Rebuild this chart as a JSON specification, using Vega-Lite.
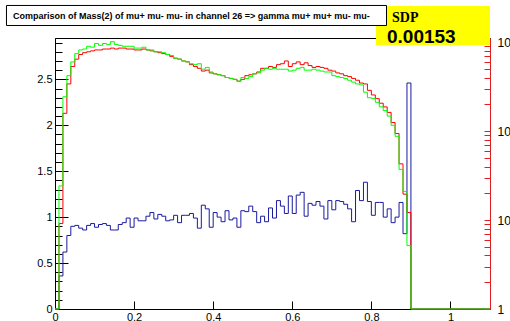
{
  "$schema": "https://vega.github.io/schema/vega-lite/v6.json",
  "width": 435,
  "height": 271,
  "autosize": {"type": "none"},
  "padding": {"left": 55, "top": 38, "right": 20, "bottom": 12},
  "background": "white",
  "config": {
    "view": {"stroke": "#000", "strokeWidth": 1},
    "axis": {"labelFont": "Liberation Sans", "labelFontSize": 11, "labelColor": "#000", "domainColor": "#000", "tickColor": "#000", "grid": false, "title": null, "labelOverlap": false, "labelFlush": false}
  },
  "data": {"values": [
    {"x": 0.00, "r": 0, "g": 0, "b": 0},
    {"x": 0.01, "r": 0.93, "g": 1.34, "b": 0.36},
    {"x": 0.02, "r": 2.13, "g": 2.31, "b": 0.62},
    {"x": 0.03, "r": 2.45, "g": 2.54, "b": 0.80},
    {"x": 0.04, "r": 2.64, "g": 2.69, "b": 0.90},
    {"x": 0.05, "r": 2.72, "g": 2.78, "b": 0.91},
    {"x": 0.06, "r": 2.77, "g": 2.82, "b": 0.88},
    {"x": 0.07, "r": 2.79, "g": 2.83, "b": 0.86},
    {"x": 0.08, "r": 2.80, "g": 2.86, "b": 0.91},
    {"x": 0.09, "r": 2.81, "g": 2.85, "b": 0.93},
    {"x": 0.10, "r": 2.82, "g": 2.89, "b": 0.89},
    {"x": 0.11, "r": 2.82, "g": 2.87, "b": 0.92},
    {"x": 0.12, "r": 2.83, "g": 2.89, "b": 0.93},
    {"x": 0.13, "r": 2.83, "g": 2.88, "b": 0.91},
    {"x": 0.14, "r": 2.84, "g": 2.91, "b": 0.86},
    {"x": 0.15, "r": 2.83, "g": 2.88, "b": 0.86},
    {"x": 0.16, "r": 2.84, "g": 2.87, "b": 0.92},
    {"x": 0.17, "r": 2.84, "g": 2.86, "b": 0.94},
    {"x": 0.18, "r": 2.83, "g": 2.86, "b": 0.99},
    {"x": 0.19, "r": 2.83, "g": 2.86, "b": 0.89},
    {"x": 0.20, "r": 2.82, "g": 2.84, "b": 0.99},
    {"x": 0.21, "r": 2.82, "g": 2.84, "b": 0.96},
    {"x": 0.22, "r": 2.83, "g": 2.85, "b": 0.96},
    {"x": 0.23, "r": 2.82, "g": 2.82, "b": 1.01},
    {"x": 0.24, "r": 2.81, "g": 2.82, "b": 1.05},
    {"x": 0.25, "r": 2.80, "g": 2.80, "b": 0.98},
    {"x": 0.26, "r": 2.79, "g": 2.80, "b": 1.03},
    {"x": 0.27, "r": 2.78, "g": 2.79, "b": 1.01},
    {"x": 0.28, "r": 2.77, "g": 2.77, "b": 0.96},
    {"x": 0.29, "r": 2.75, "g": 2.76, "b": 0.97},
    {"x": 0.30, "r": 2.73, "g": 2.73, "b": 1.02},
    {"x": 0.31, "r": 2.72, "g": 2.72, "b": 0.94},
    {"x": 0.32, "r": 2.70, "g": 2.70, "b": 1.02},
    {"x": 0.33, "r": 2.69, "g": 2.69, "b": 1.02},
    {"x": 0.34, "r": 2.66, "g": 2.67, "b": 1.04},
    {"x": 0.35, "r": 2.64, "g": 2.66, "b": 0.99},
    {"x": 0.36, "r": 2.62, "g": 2.67, "b": 0.88},
    {"x": 0.37, "r": 2.59, "g": 2.61, "b": 1.13},
    {"x": 0.38, "r": 2.60, "g": 2.63, "b": 1.09},
    {"x": 0.39, "r": 2.57, "g": 2.58, "b": 0.89},
    {"x": 0.40, "r": 2.56, "g": 2.56, "b": 1.05},
    {"x": 0.41, "r": 2.55, "g": 2.55, "b": 1.00},
    {"x": 0.42, "r": 2.54, "g": 2.54, "b": 0.95},
    {"x": 0.43, "r": 2.52, "g": 2.52, "b": 1.07},
    {"x": 0.44, "r": 2.51, "g": 2.51, "b": 0.97},
    {"x": 0.45, "r": 2.50, "g": 2.50, "b": 0.99},
    {"x": 0.46, "r": 2.48, "g": 2.48, "b": 0.89},
    {"x": 0.47, "r": 2.50, "g": 2.52, "b": 1.07},
    {"x": 0.48, "r": 2.54, "g": 2.51, "b": 1.06},
    {"x": 0.49, "r": 2.55, "g": 2.53, "b": 1.12},
    {"x": 0.50, "r": 2.56, "g": 2.56, "b": 1.06},
    {"x": 0.51, "r": 2.58, "g": 2.57, "b": 0.94},
    {"x": 0.52, "r": 2.62, "g": 2.60, "b": 1.01},
    {"x": 0.53, "r": 2.62, "g": 2.62, "b": 0.95},
    {"x": 0.54, "r": 2.64, "g": 2.61, "b": 1.10},
    {"x": 0.55, "r": 2.63, "g": 2.62, "b": 0.99},
    {"x": 0.56, "r": 2.66, "g": 2.61, "b": 1.18},
    {"x": 0.57, "r": 2.67, "g": 2.61, "b": 1.12},
    {"x": 0.58, "r": 2.70, "g": 2.61, "b": 1.04},
    {"x": 0.59, "r": 2.64, "g": 2.59, "b": 1.23},
    {"x": 0.60, "r": 2.67, "g": 2.60, "b": 1.04},
    {"x": 0.61, "r": 2.69, "g": 2.62, "b": 1.24},
    {"x": 0.62, "r": 2.66, "g": 2.63, "b": 1.27},
    {"x": 0.63, "r": 2.68, "g": 2.60, "b": 1.01},
    {"x": 0.64, "r": 2.65, "g": 2.60, "b": 1.15},
    {"x": 0.65, "r": 2.63, "g": 2.61, "b": 1.13},
    {"x": 0.66, "r": 2.64, "g": 2.60, "b": 1.17},
    {"x": 0.67, "r": 2.63, "g": 2.59, "b": 1.12},
    {"x": 0.68, "r": 2.62, "g": 2.58, "b": 0.98},
    {"x": 0.69, "r": 2.60, "g": 2.58, "b": 1.18},
    {"x": 0.70, "r": 2.59, "g": 2.54, "b": 1.08},
    {"x": 0.71, "r": 2.57, "g": 2.53, "b": 1.18},
    {"x": 0.72, "r": 2.56, "g": 2.52, "b": 1.17},
    {"x": 0.73, "r": 2.54, "g": 2.51, "b": 1.14},
    {"x": 0.74, "r": 2.53, "g": 2.49, "b": 1.09},
    {"x": 0.75, "r": 2.51, "g": 2.47, "b": 0.95},
    {"x": 0.76, "r": 2.49, "g": 2.45, "b": 1.29},
    {"x": 0.77, "r": 2.46, "g": 2.44, "b": 1.18},
    {"x": 0.78, "r": 2.45, "g": 2.36, "b": 1.38},
    {"x": 0.79, "r": 2.38, "g": 2.30, "b": 1.17},
    {"x": 0.80, "r": 2.33, "g": 2.29, "b": 1.02},
    {"x": 0.81, "r": 2.29, "g": 2.25, "b": 1.16},
    {"x": 0.82, "r": 2.24, "g": 2.20, "b": 1.16},
    {"x": 0.83, "r": 2.20, "g": 2.16, "b": 1.00},
    {"x": 0.84, "r": 2.14, "g": 2.10, "b": 1.09},
    {"x": 0.85, "r": 2.03, "g": 2.00, "b": 0.94},
    {"x": 0.86, "r": 1.91, "g": 1.88, "b": 1.00},
    {"x": 0.87, "r": 1.58, "g": 1.52, "b": 1.16},
    {"x": 0.88, "r": 1.25, "g": 1.28, "b": 0.82},
    {"x": 0.89, "r": 1.05, "g": 0.69, "b": 2.46},
    {"x": 0.90, "r": 0, "g": 0, "b": 0},
    {"x": 1.10, "r": 0, "g": 0, "b": 0}
  ]},
  "resolve": {"scale": {"y": "independent"}},
  "layer": [
    {
      "mark": {"type": "line", "interpolate": "step-after", "color": "#1a1aa0", "strokeWidth": 1},
      "encoding": {
        "x": {"field": "x", "type": "quantitative", "scale": {"domain": [0, 1.1], "nice": false, "zero": false},
          "axis": {
            "values": [0,0.05,0.1,0.15,0.2,0.25,0.3,0.35,0.4,0.45,0.5,0.55,0.6,0.65,0.7,0.75,0.8,0.85,0.9,0.95,1,1.05,1.1],
            "tickSize": {"condition": {"test": "abs(datum.value/0.2 - round(datum.value/0.2)) < 0.000001", "value": -8}, "value": -4},
            "labelExpr": "abs(datum.value/0.2 - round(datum.value/0.2)) < 0.000001 && datum.value < 1.05 ? '' + datum.value : ''",
            "labelOverlap": false,
            "labelPadding": 10
          }},
        "y": {"field": "b", "type": "quantitative", "scale": {"domain": [0, 2.95], "nice": false},
          "axis": {
            "orient": "left",
            "values": [0,0.1,0.2,0.3,0.4,0.5,0.6,0.7,0.8,0.9,1,1.1,1.2,1.3,1.4,1.5,1.6,1.7,1.8,1.9,2,2.1,2.2,2.3,2.4,2.5,2.6,2.7,2.8,2.9],
            "tickSize": {"condition": {"test": "abs(datum.value/0.5 - round(datum.value/0.5)) < 0.000001", "value": -13}, "value": -7},
            "labelExpr": "abs(datum.value/0.5 - round(datum.value/0.5)) < 0.000001 ? '' + datum.value : ''",
            "labelOverlap": false,
            "labelPadding": 16
          }}
      }
    },
    {
      "mark": {"type": "line", "interpolate": "step-after", "color": "#ff0000", "strokeWidth": 1},
      "encoding": {
        "x": {"field": "x", "type": "quantitative"},
        "y": {"field": "r", "type": "quantitative", "scale": {"domain": [0, 2.95], "nice": false}, "axis": null}
      }
    },
    {
      "mark": {"type": "line", "interpolate": "step-after", "color": "#00ff00", "strokeWidth": 1},
      "encoding": {
        "x": {"field": "x", "type": "quantitative"},
        "y": {"field": "g", "type": "quantitative", "scale": {"domain": [0, 2.95], "nice": false}, "axis": null}
      }
    },
    {
      "data": {"values": [{}]},
      "mark": {"type": "rect", "fill": "#ffff00", "stroke": null},
      "encoding": {
        "x": {"datum": 0.8117, "type": "quantitative"},
        "x2": {"datum": 1.1},
        "y": {"datum": 3.2985, "type": "quantitative", "scale": {"domain": [0, 2.95], "nice": false}, "axis": null},
        "y2": {"datum": 2.8739}
      }
    },
    {
      "data": {"values": [{}]},
      "mark": {"type": "rect", "fill": "#ffffff", "stroke": "#000000", "strokeWidth": 1},
      "encoding": {
        "x": {"datum": -0.1227, "type": "quantitative"},
        "x2": {"datum": 0.8383},
        "y": {"datum": 3.304, "type": "quantitative", "scale": {"domain": [0, 2.95], "nice": false}, "axis": null},
        "y2": {"datum": 3.0862}
      }
    },
    {
      "data": {"values": [{}]},
      "mark": {"type": "text", "text": "Comparison of Mass(2) of mu+ mu- mu- in channel 26 => gamma mu+ mu+ mu- mu-", "font": "Liberation Sans", "fontWeight": "bold", "fontSize": 9, "align": "left", "baseline": "alphabetic", "color": "#000"},
      "encoding": {
        "x": {"datum": -0.1062, "type": "quantitative"},
        "y": {"datum": 3.157, "type": "quantitative", "scale": {"domain": [0, 2.95], "nice": false}, "axis": null}
      }
    },
    {
      "data": {"values": [{}]},
      "mark": {"type": "text", "text": "SDP", "font": "Liberation Serif", "fontWeight": "bold", "fontSize": 14, "align": "left", "baseline": "alphabetic", "color": "#000"},
      "encoding": {
        "x": {"datum": 0.8522, "type": "quantitative"},
        "y": {"datum": 3.119, "type": "quantitative", "scale": {"domain": [0, 2.95], "nice": false}, "axis": null}
      }
    },
    {
      "data": {"values": [{}]},
      "mark": {"type": "text", "text": "0.00153", "font": "Liberation Sans", "fontWeight": "bold", "fontSize": 19, "align": "left", "baseline": "alphabetic", "color": "#000"},
      "encoding": {
        "x": {"datum": 0.8395, "type": "quantitative"},
        "y": {"datum": 2.901, "type": "quantitative", "scale": {"domain": [0, 2.95], "nice": false}, "axis": null}
      }
    },
    {
      "data": {"values": [{}]},
      "mark": {"type": "rule", "opacity": 0},
      "encoding": {
        "y": {"datum": 1, "type": "quantitative", "scale": {"type": "log", "domain": [1, 1120], "nice": false},
          "axis": {
            "orient": "right",
            "values": [1,2,3,4,5,6,7,8,9,10,20,30,40,50,60,70,80,90,100,200,300,400,500,600,700,800,900,1000],
            "tickSize": -6,
            "tickColor": "#e02020",
            "domainColor": "#e02020",
            "labelFontSize": 12,
            "labelPadding": 13,
            "labelOverlap": false,
            "labelExpr": "datum.value == 1 ? '1' : (abs(log(datum.value)/LN10 - round(log(datum.value)/LN10)) < 0.000001 ? '10' : '')"
          }}
      }
    }
  ]
}
